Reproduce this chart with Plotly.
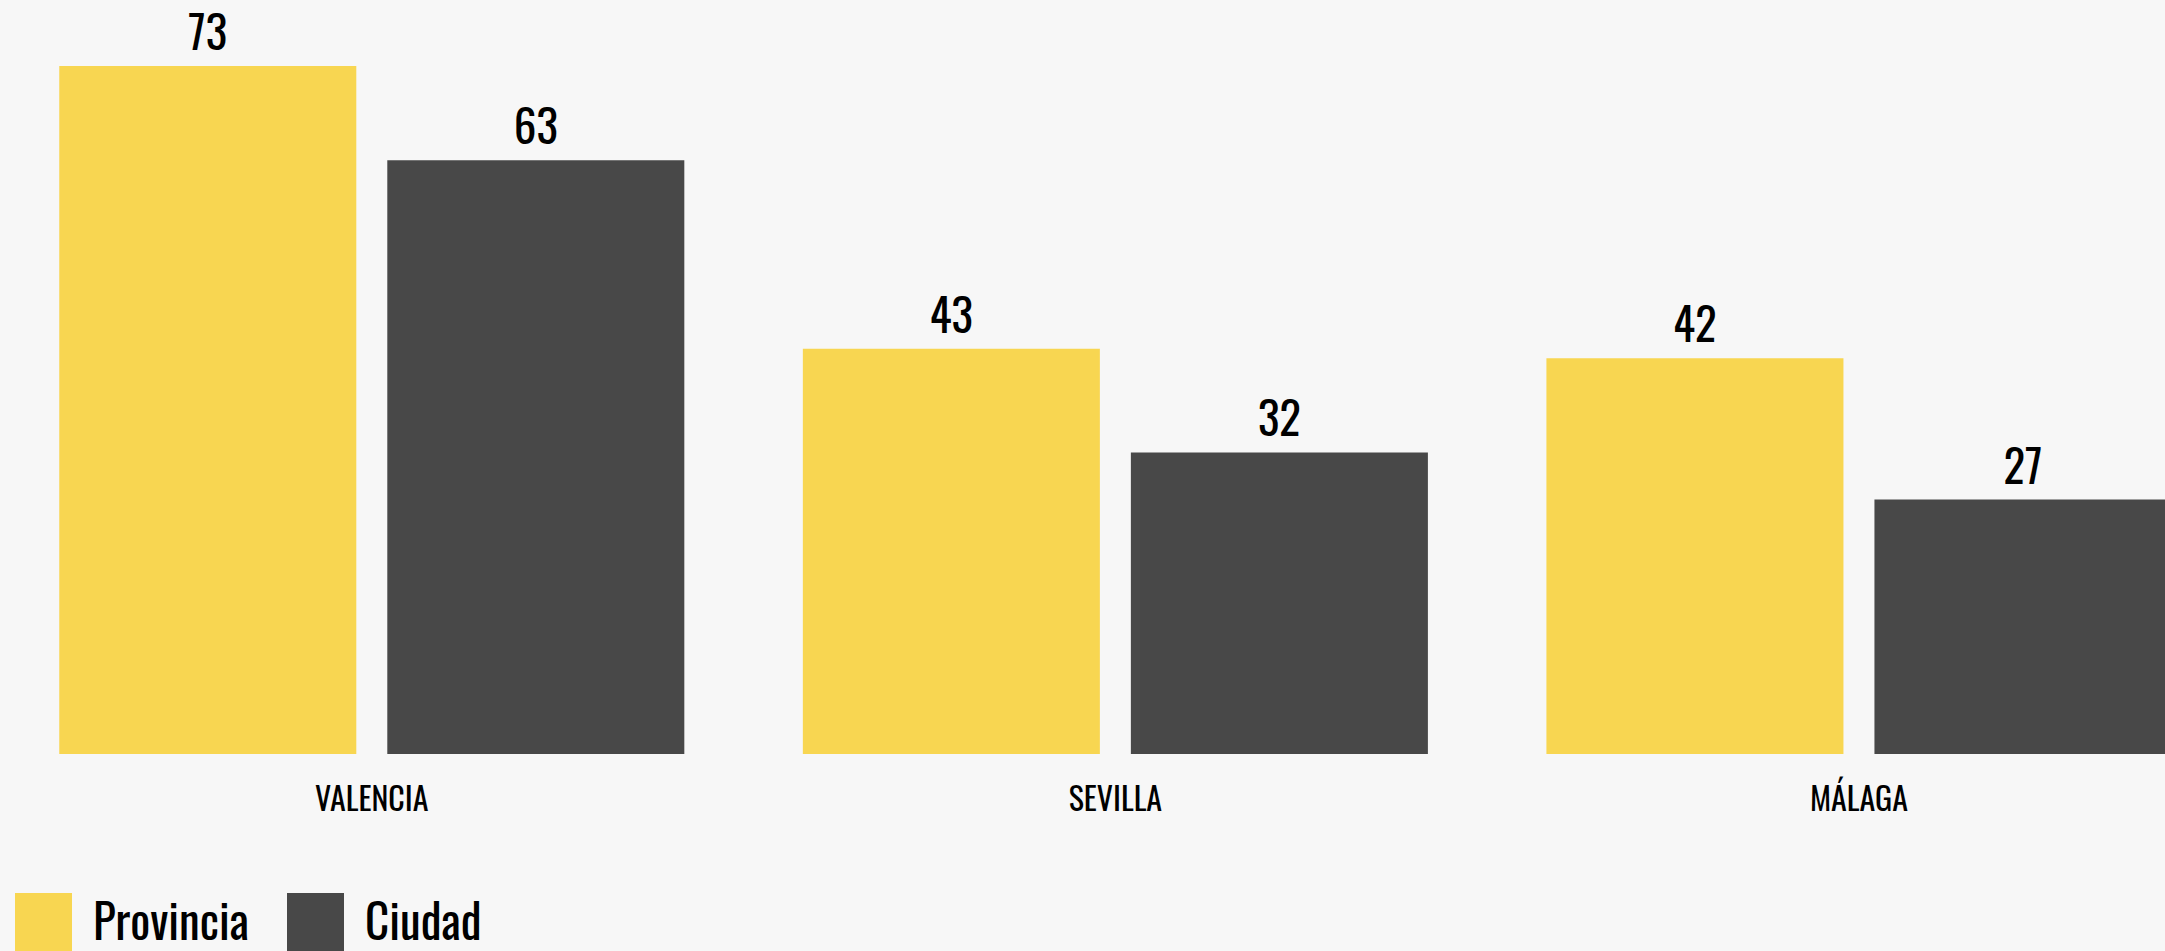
import plotly.graph_objects as go

categories = ["VALENCIA", "SEVILLA", "MÁLAGA"]
series_names = ["Provincia", "Ciudad"]
provincia = [73, 43, 42]
ciudad = [63, 32, 27]
colors = ["#F8D651", "#484848"]

W, H = 2165, 951
FONT = "Oswald, 'Liberation Sans Narrow', 'Arial Narrow', 'DejaVu Sans Condensed', 'Roboto Condensed', sans-serif"

fig = go.Figure()
for name, vals, col in zip(series_names, [provincia, ciudad], colors):
    fig.add_trace(go.Bar(
        x=categories, y=vals, name=name, marker=dict(color=col, line=dict(width=0)),
        text=[str(v) for v in vals], textposition="outside",
        textfont=dict(family=FONT, size=45, color="#000000"),
        cliponaxis=False, showlegend=False,
    ))

plot_bottom = 754
# custom legend (large swatches)
legend_items = [(15, 72, 91), (287, 344, 363)]
shapes = []
annotations = []
for (x0, x1, tx), name, col in zip(legend_items, series_names, colors):
    y_top = (plot_bottom - 893) / plot_bottom
    y_bot = (plot_bottom - 965) / plot_bottom
    shapes.append(dict(type="rect", xref="paper", yref="paper",
                       x0=x0 / W, x1=x1 / W, y0=y_bot, y1=y_top,
                       fillcolor=col, line=dict(width=0)))
    annotations.append(dict(xref="paper", yref="paper", x=tx / W,
                            y=(plot_bottom - 919) / plot_bottom,
                            xanchor="left", yanchor="middle", showarrow=False,
                            text=name, font=dict(family=FONT, size=47, color="#000000")))

fig.update_layout(
    width=W, height=H,
    margin=dict(l=0, r=0, t=0, b=H - plot_bottom, pad=0),
    paper_bgcolor="#F7F7F7", plot_bgcolor="#F7F7F7",
    barmode="group", bargap=0.1177, bargroupgap=0.0945,
    xaxis=dict(range=[-0.5, 2.4116], showgrid=False, zeroline=False, showline=False,
               ticks="", ticklabelstandoff=24,
               tickfont=dict(family=FONT, size=32, color="#000000")),
    yaxis=dict(range=[0, 80], visible=False, showgrid=False, zeroline=False),
    shapes=shapes, annotations=annotations,
    font=dict(family=FONT),
)

fig.write_html("out.html")
